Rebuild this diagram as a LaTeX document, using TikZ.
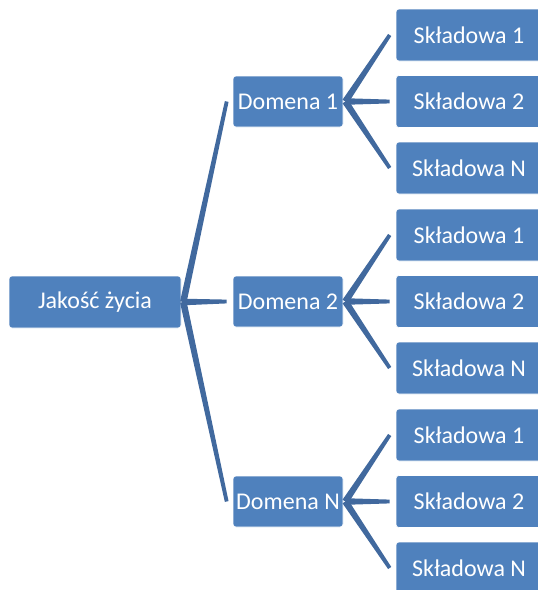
\documentclass[tikz,border=0pt]{standalone}
\usepackage{fontspec}
\setmainfont{Carlito}
\usetikzlibrary{calc}
\definecolor{boxblue}{HTML}{4F81BD}
\definecolor{lineblue}{HTML}{41699E}
\tikzset{
  box/.style={draw=white, line width=0.6pt, fill=boxblue, rounded corners=3pt, text=white,
    inner sep=0pt, font=\fontsize{24}{28}\selectfont},
  rootbox/.style={box, minimum width=172pt, minimum height=52pt},
  dombox/.style={box, minimum width=110pt, minimum height=51pt},
  subbox/.style={box, minimum width=146pt, minimum height=52pt},
  conn/.style={fill=lineblue}
}
\newcommand\tapline[2]{\fill[conn] ($(#1)!3.3pt!90:(#2)$) -- ($(#2)!1.9pt!-90:(#1)$) -- ($(#2)!1.9pt!90:(#1)$) -- ($(#1)!3.3pt!-90:(#2)$) -- cycle;}
\begin{document}
\begin{tikzpicture}[x=1pt,y=-1pt]
\useasboundingbox (0,0) rectangle (538,590);
\clip (0,0) rectangle (538,590);
\node[rootbox] (root) at (95,302) {Jakość życia};
\node[dombox] (d1) at (288,101.5) {Domena 1};
\node[dombox] (d2) at (288,301.5) {Domena 2};
\node[dombox] (d3) at (288,501.5) {Domena N};
\foreach \g/\y in {1/101.5,2/301.5,3/501.5}{
  \node[subbox] (s\g a) at (469,\y-66.5) {Składowa 1};
  \node[subbox] (s\g b) at (469,\y) {Składowa 2};
  \node[subbox] (s\g c) at (469,\y+66.5) {Składowa N};
}
\coordinate (rp) at ($(root.east)+(2,0)$);
\foreach \d in {d1,d2,d3}{
  \coordinate (\d in) at ($(\d.west)+(-6,0)$);
  \coordinate (\d out) at ($(\d.east)+(2,0)$);
  \tapline{rp}{\d in}
}
\foreach \g/\d in {1/d1,2/d2,3/d3}{
  \foreach \s in {a,b,c}{
    \coordinate (s\g\s in) at ($(s\g\s.west)+(-6,0)$);
    \tapline{\d out}{s\g\s in}
  }
}
\end{tikzpicture}
\end{document}
